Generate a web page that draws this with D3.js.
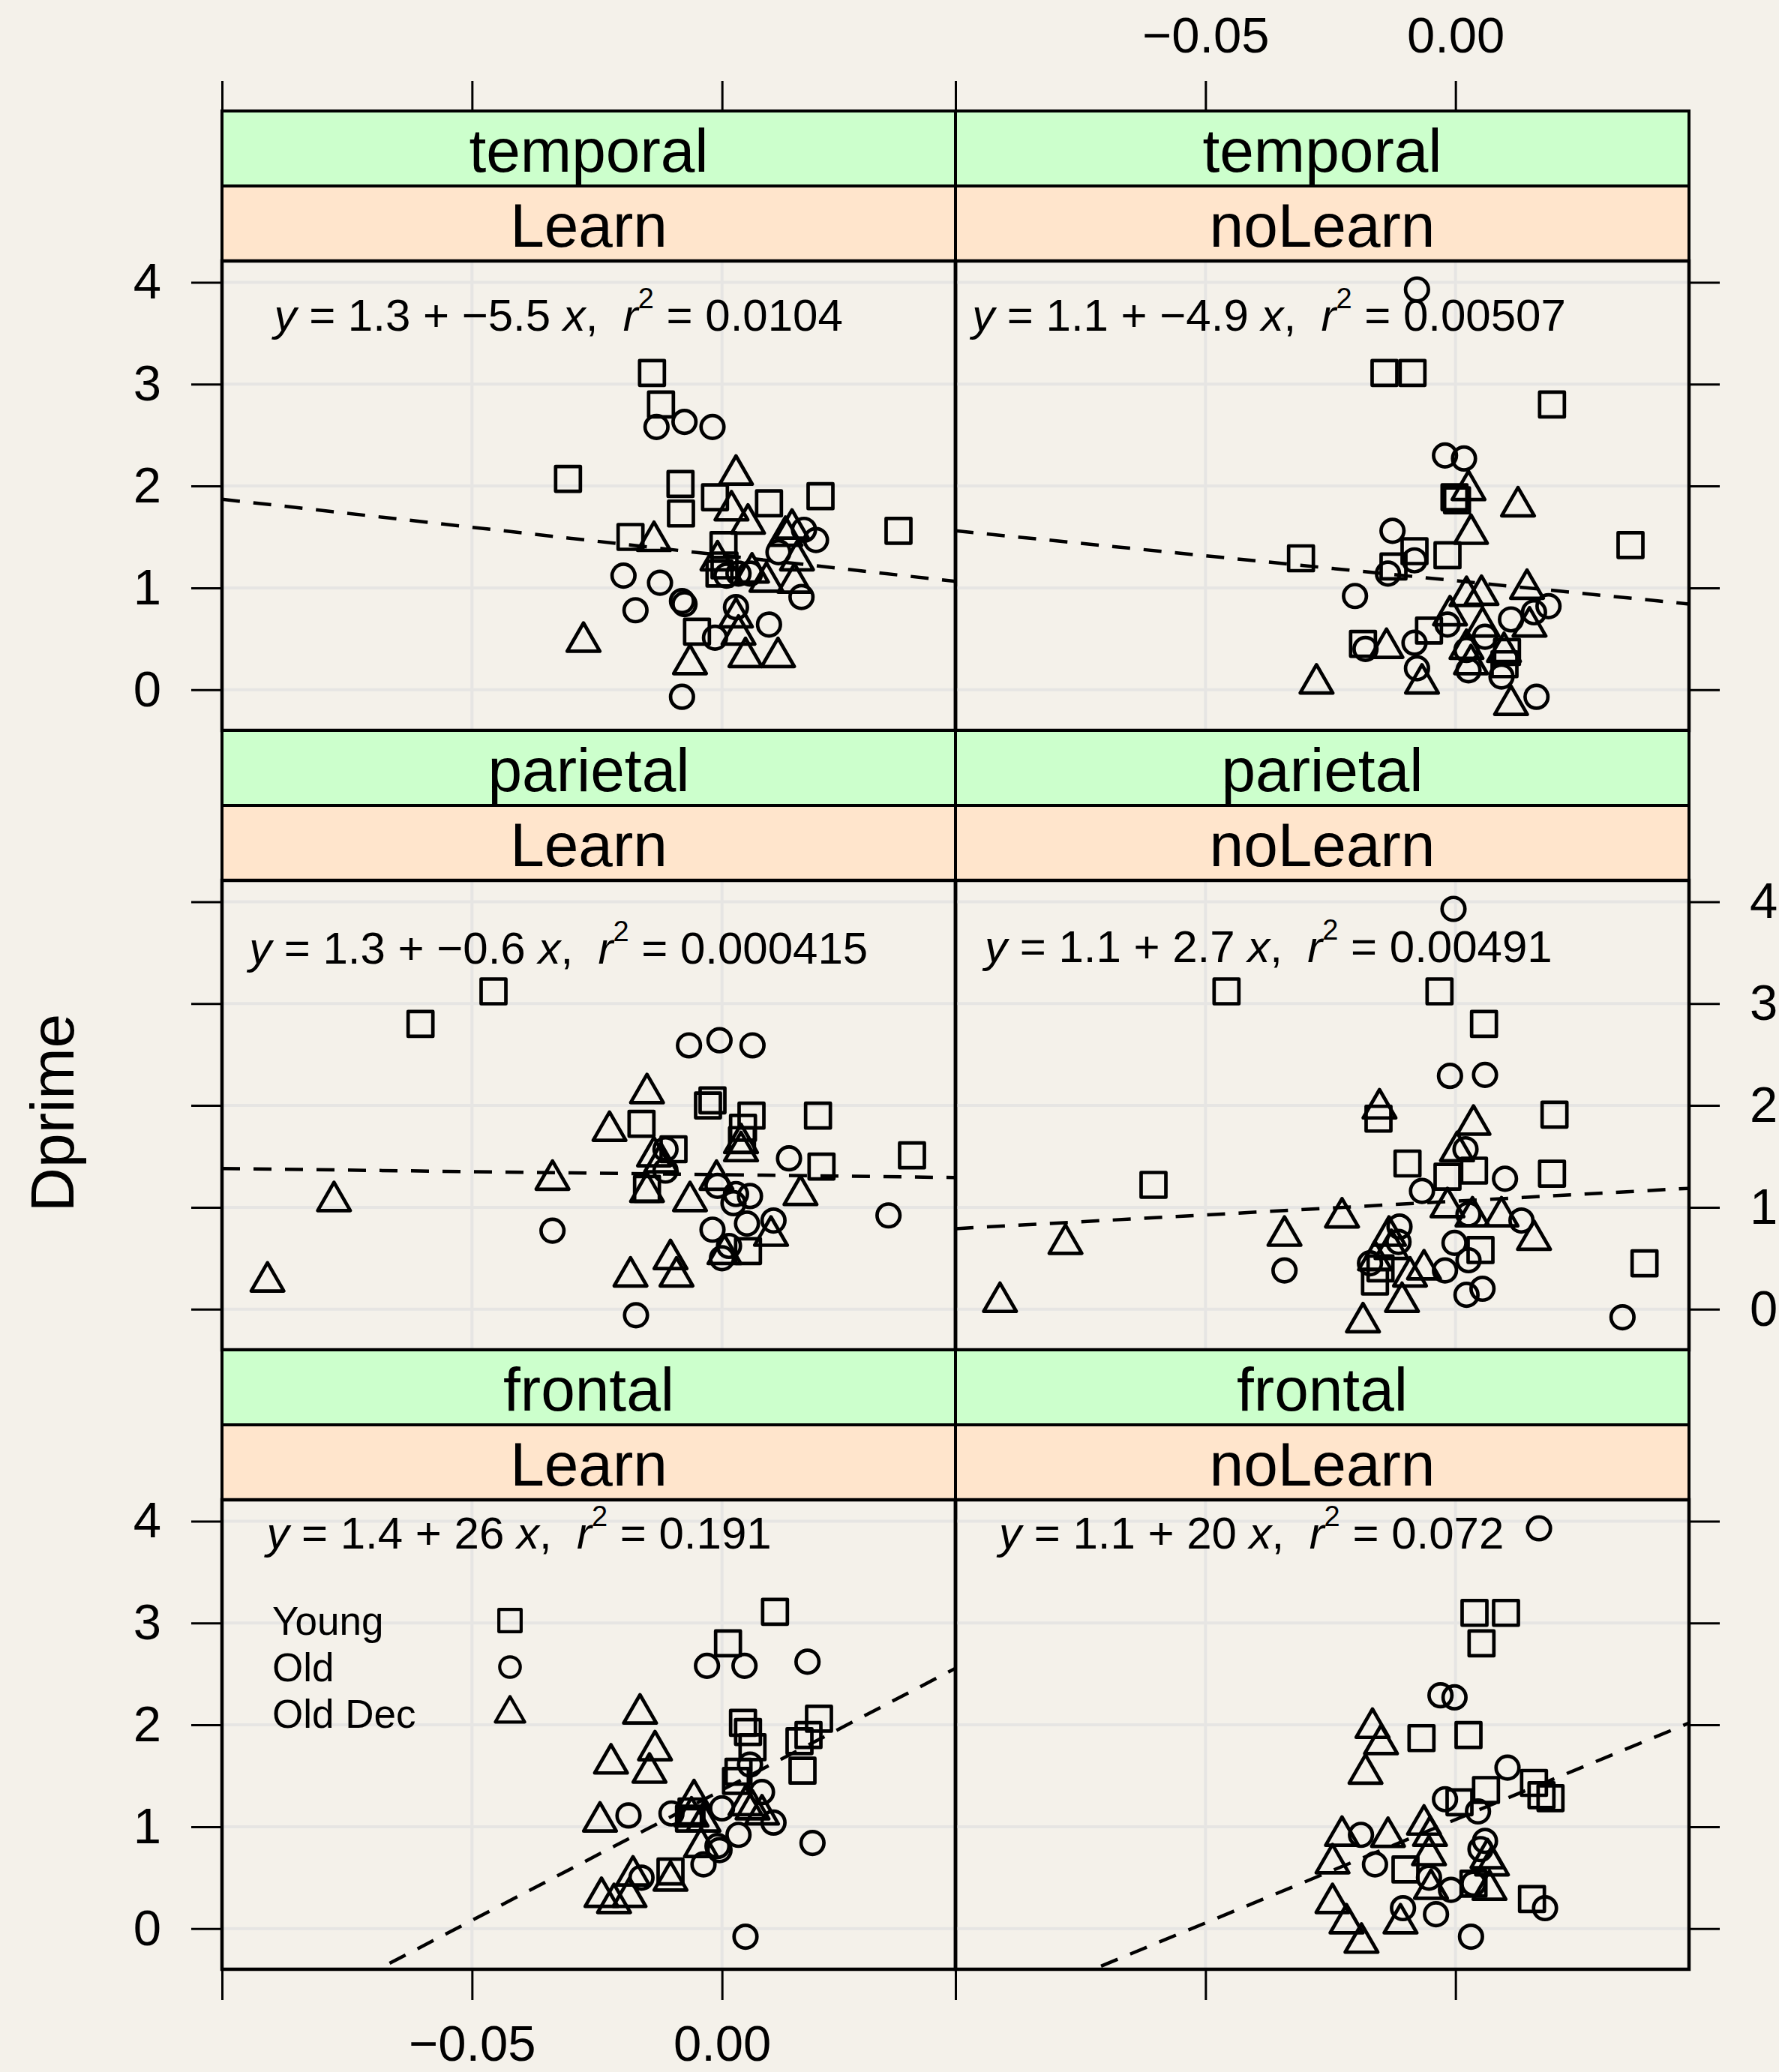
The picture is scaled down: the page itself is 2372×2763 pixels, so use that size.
<!DOCTYPE html>
<html>
<head>
<meta charset="utf-8">
<script src="https://cdn.jsdelivr.net/npm/d3@7"></script>
<style>
  html, body { margin: 0; padding: 0; background: #f4f1ea; }
  svg { display: block; }
  text { white-space: pre; }
</style>
</head>
<body>
<script>
// ---------------------------------------------------------------
// Dprime against slope, by brain region and learning condition
// ---------------------------------------------------------------

const regions = ["temporal", "parietal", "frontal"];   // rows, top to bottom
const conditions = ["Learn", "noLearn"];                // columns
const groups = ["Young", "Old", "Old Dec"];

const xTickValues = [-0.10, -0.05, 0.00];
const xTickLabels = ["", "\u22120.05", "0.00"];
const yTickValues = [0, 1, 2, 3, 4];
const yTickLabels = ["0", "1", "2", "3", "4"];

// temporal / Learn
const temporalLearnYoung = [[-0.0140,3.11],[-0.0122,2.80],[-0.0308,2.07],[-0.0083,2.02],[-0.0082,1.73],[-0.0014,1.89],[0.0094,1.83],[0.0197,1.90],[0.0353,1.56],[-0.0183,1.50],[0.0003,1.42],[-0.0005,1.14],[0.0005,1.22],[-0.0050,0.57]];
const temporalLearnOld = [[-0.0131,2.58],[-0.0075,2.63],[-0.0019,2.58],[0.0164,1.57],[0.0188,1.47],[0.0113,1.35],[-0.0197,1.12],[-0.0124,1.05],[0.0009,1.12],[0.0033,1.14],[0.0056,1.14],[-0.0080,0.87],[-0.0075,0.84],[-0.0173,0.78],[0.0159,0.91],[0.0028,0.81],[0.0094,0.64],[-0.0014,0.51],[-0.0080,-0.07]];
const temporalLearnOldDec = [[0.0028,2.11],[0.0019,1.76],[0.0052,1.63],[-0.0136,1.46],[0.0127,1.51],[0.0140,1.58],[-0.0009,1.27],[0.0150,1.27],[0.0089,1.06],[0.0145,1.05],[0.0028,0.71],[0.0033,0.54],[-0.0277,0.47],[-0.0064,0.25],[0.0047,0.32],[0.0112,0.32],[0.0060,1.15]];

// temporal / noLearn
const temporalNoLearnYoung = [[-0.0142,3.11],[-0.0086,3.11],[0.0193,2.80],[-0.0002,1.89],[0.0003,1.86],[-0.0309,1.29],[-0.0082,1.36],[-0.0016,1.32],[-0.0124,1.21],[0.0350,1.42],[-0.0053,0.58],[-0.0185,0.45],[0.0098,0.25],[0.0103,0.37]];
const temporalNoLearnOld = [[-0.0077,3.93],[-0.0021,2.30],[0.0017,2.27],[-0.0126,1.56],[-0.0082,1.27],[-0.0135,1.14],[-0.0201,0.92],[0.0186,0.82],[0.0157,0.76],[0.0111,0.69],[-0.0016,0.64],[-0.0082,0.46],[-0.0180,0.40],[0.0022,0.39],[0.0059,0.52],[-0.0077,0.21],[0.0026,0.19],[0.0092,0.13],[0.0162,-0.07]];
const temporalNoLearnOldDec = [[0.0026,1.96],[0.0125,1.80],[0.0031,1.53],[0.0143,0.99],[0.0022,0.92],[0.0052,0.93],[-0.0011,0.73],[0.0054,0.62],[0.0148,0.62],[-0.0138,0.41],[0.0022,0.40],[0.0097,0.37],[-0.0278,0.06],[-0.0067,0.06],[0.0031,0.25],[0.0111,-0.15]];

// parietal / Learn
const parietalLearnYoung = [[-0.0457,3.12],[-0.0603,2.80],[-0.0019,2.05],[-0.0028,2.00],[0.0059,1.90],[0.0192,1.90],[-0.0161,1.82],[-0.0097,1.57],[0.0042,1.78],[0.0040,1.66],[0.0380,1.51],[0.0199,1.40],[-0.0150,1.18],[0.0052,0.57]];
const parietalLearnOld = [[-0.0066,2.59],[-0.0005,2.64],[0.0061,2.59],[0.0134,1.48],[-0.0113,1.57],[-0.0113,1.36],[-0.0009,1.21],[0.0028,1.13],[0.0056,1.11],[0.0023,1.04],[0.0333,0.92],[-0.0339,0.77],[-0.0019,0.78],[0.0050,0.84],[0.0103,0.87],[0.0014,0.62],[0.0000,0.50],[-0.0172,-0.06]];
const parietalLearnOldDec = [[-0.0150,2.12],[-0.0225,1.75],[-0.0136,1.50],[-0.0122,1.44],[0.0038,1.63],[0.0038,1.55],[-0.0339,1.27],[-0.0776,1.06],[-0.0011,1.27],[-0.0150,1.15],[-0.0064,1.06],[0.0157,1.12],[0.0098,0.72],[-0.0103,0.49],[-0.0183,0.32],[-0.0091,0.32],[0.0005,0.54],[-0.0909,0.27]];

// parietal / noLearn
const parietalNoLearnYoung = [[-0.0458,3.12],[-0.0032,3.12],[0.0057,2.80],[0.0198,1.91],[-0.0154,1.87],[-0.0096,1.43],[0.0037,1.36],[-0.0016,1.30],[0.0193,1.33],[-0.0604,1.22],[0.0050,0.58],[-0.0161,0.27],[0.0378,0.45],[-0.0150,0.40]];
const parietalNoLearnOld = [[-0.0004,3.93],[-0.0011,2.29],[0.0059,2.30],[0.0020,1.57],[0.0099,1.28],[-0.0067,1.16],[0.0026,0.93],[0.0132,0.87],[-0.0112,0.81],[-0.0114,0.66],[-0.0002,0.65],[-0.0171,0.45],[0.0026,0.48],[-0.0021,0.38],[-0.0342,0.38],[0.0054,0.20],[0.0022,0.14],[0.0334,-0.08]];
const parietalNoLearnOldDec = [[-0.0152,1.97],[0.0036,1.81],[0.0003,1.55],[-0.0016,1.00],[0.0034,0.91],[0.0092,0.91],[-0.0227,0.90],[-0.0342,0.72],[0.0157,0.68],[-0.0780,0.64],[-0.0133,0.72],[-0.0128,0.59],[-0.0161,0.48],[-0.0063,0.39],[-0.0091,0.32],[-0.0107,0.07],[-0.0185,-0.13],[-0.0911,0.07]];

// frontal / Learn
const frontalLearnYoung = [[0.0106,3.11],[0.0012,2.80],[0.0194,2.06],[0.0042,2.02],[0.0052,1.93],[0.0173,1.90],[0.0155,1.84],[0.0061,1.78],[0.0161,1.55],[0.0033,1.54],[0.0028,1.45],[-0.0061,1.15],[-0.0066,1.08],[-0.0103,0.56]];
const frontalLearnOld = [[-0.0030,2.58],[0.0045,2.58],[0.0171,2.62],[0.0056,1.61],[0.0080,1.34],[-0.0187,1.11],[-0.0101,1.13],[0.0000,1.18],[0.0103,1.04],[0.0033,0.92],[-0.0009,0.81],[-0.0005,0.77],[-0.0037,0.63],[-0.0161,0.50],[0.0181,0.84],[0.0047,-0.08]];
const frontalLearnOldDec = [[-0.0164,2.11],[-0.0134,1.75],[-0.0222,1.62],[-0.0145,1.53],[-0.0056,1.27],[-0.0244,1.05],[0.0047,1.21],[0.0061,1.17],[0.0080,1.12],[-0.0037,1.05],[-0.0061,1.10],[-0.0042,0.80],[-0.0178,0.52],[-0.0103,0.47],[-0.0241,0.31],[-0.0216,0.25],[-0.0185,0.31]];

// frontal / noLearn
const frontalNoLearnYoung = [[0.0038,3.10],[0.0101,3.10],[0.0052,2.80],[-0.0068,1.87],[0.0026,1.90],[0.0157,1.43],[0.0061,1.36],[0.0172,1.31],[0.0190,1.28],[0.0008,1.24],[-0.0100,0.58],[0.0036,0.44],[0.0153,0.29]];
const frontalNoLearnOld = [[0.0167,3.93],[-0.0030,2.29],[-0.0002,2.27],[0.0104,1.58],[-0.0021,1.27],[0.0045,1.15],[-0.0189,0.92],[0.0059,0.86],[0.0050,0.78],[-0.0161,0.63],[-0.0053,0.50],[-0.0009,0.38],[0.0036,0.44],[-0.0105,0.20],[-0.0039,0.14],[0.0179,0.20],[0.0031,-0.08]];
const frontalNoLearnOldDec = [[-0.0166,1.97],[-0.0149,1.81],[-0.0180,1.52],[-0.0227,0.91],[-0.0135,0.90],[-0.0063,1.02],[-0.0051,0.91],[-0.0246,0.64],[-0.0053,0.72],[0.0064,0.69],[0.0073,0.62],[-0.0049,0.39],[0.0068,0.38],[-0.0246,0.25],[-0.0218,0.05],[-0.0110,0.05],[-0.0188,-0.14]];

// Least-squares fits, panel order: row by row, Learn then noLearn
const fitIntercept = [1.32, 1.07, 1.32, 1.06, 1.36, 1.07];
const fitSlope     = [-5.5, -4.9, -0.6, 2.7, 25.6, 20.3];
const fitR2        = [0.0104, 0.00507, 0.000415, 0.00491, 0.191, 0.072];

// ---------------------------------------------------------------
const W = 2372, H = 2763;
const FONT = "'Liberation Sans', Arial, Helvetica, sans-serif";
const BG = "#f4f1ea";
const STRIP_OUTER = "#ccffcc", STRIP_INNER = "#ffe5cc";

const colLeft = [296, 1274];
const panelW = 978;
const rowTop = [148, 974, 1800];
const stripH = 100;
const plotH = 626;

const x = d3.scaleLinear().domain([-0.10, 0.0467]).range([0, panelW]);
const y = d3.scaleLinear().domain([-0.40, 4.21]).range([plotH, 0]);

const fmtCoef = d3.format(".2~r");
const fmtR2 = d3.format(".3~r");

const seriesTable = {
  temporal: { Learn: [temporalLearnYoung, temporalLearnOld, temporalLearnOldDec],
              noLearn: [temporalNoLearnYoung, temporalNoLearnOld, temporalNoLearnOldDec] },
  parietal: { Learn: [parietalLearnYoung, parietalLearnOld, parietalLearnOldDec],
              noLearn: [parietalNoLearnYoung, parietalNoLearnOld, parietalNoLearnOldDec] },
  frontal:  { Learn: [frontalLearnYoung, frontalLearnOld, frontalLearnOldDec],
              noLearn: [frontalNoLearnYoung, frontalNoLearnOld, frontalNoLearnOldDec] }
};

// where each fit equation sits, in data units (centre x, baseline y)
const eqAnchor = [[-0.0327, 3.525], [-0.0373, 3.525],
                  [-0.0327, 3.39],  [-0.0374, 3.41],
                  [-0.0406, 3.73],  [-0.0408, 3.73]];

// symbols: open square, circle, triangle
const symbolTypes = [d3.symbolSquare, d3.symbolCircle, d3.symbolTriangle];
const symbolSizes = [1089, 730, 820];
const symbolPath = (i, k = 1) => d3.symbol().type(symbolTypes[i]).size(symbolSizes[i] * k * k)();
const MARK_STROKE = 4.7;

const svg = d3.select("body").append("svg")
  .attr("width", W).attr("height", H)
  .attr("font-family", FONT);

svg.append("rect").attr("width", W).attr("height", H).attr("fill", BG);

const defs = svg.append("defs");
defs.append("clipPath").attr("id", "plotClip")
  .append("rect").attr("width", panelW).attr("height", plotH);

regions.forEach((region, r) => {
  conditions.forEach((cond, c) => {
    const k = r * 2 + c;
    const px = colLeft[c];
    const top = rowTop[r];
    const plotTop = top + 2 * stripH;

    // strips
    const strips = svg.append("g").attr("transform", `translate(${px},${top})`);
    [[region, STRIP_OUTER], [cond, STRIP_INNER]].forEach(([label, fill], s) => {
      strips.append("rect")
        .attr("y", s * stripH).attr("width", panelW).attr("height", stripH)
        .attr("fill", fill).attr("stroke", "#000").attr("stroke-width", 4);
      strips.append("text")
        .attr("x", panelW / 2).attr("y", s * stripH + 81)
        .attr("text-anchor", "middle").attr("font-size", 82).attr("fill", "#000")
        .text(label);
    });

    // panel
    const g = svg.append("g").attr("transform", `translate(${px},${plotTop})`);

    // reference grid
    const grid = g.append("g").attr("stroke", "#e6e5e3").attr("stroke-width", 4);
    grid.selectAll("line.v").data(xTickValues).join("line").attr("class", "v")
      .attr("x1", d => x(d)).attr("x2", d => x(d)).attr("y1", 0).attr("y2", plotH);
    grid.selectAll("line.h").data(yTickValues).join("line").attr("class", "h")
      .attr("x1", 0).attr("x2", panelW).attr("y1", d => y(d)).attr("y2", d => y(d));

    const inner = g.append("g").attr("clip-path", "url(#plotClip)");

    // fitted line
    const a = fitIntercept[k], b = fitSlope[k];
    const [x0, x1] = x.domain();
    inner.append("line")
      .attr("x1", x(x0)).attr("y1", y(a + b * x0))
      .attr("x2", x(x1)).attr("y2", y(a + b * x1))
      .attr("stroke", "#000").attr("stroke-width", 4.5)
      .attr("stroke-dasharray", "24,18");

    // points
    seriesTable[region][cond].forEach((pts, gi) => {
      inner.append("g").selectAll("path").data(pts).join("path")
        .attr("transform", d => `translate(${x(d[0])},${y(d[1])})`)
        .attr("d", symbolPath(gi))
        .attr("fill", "none").attr("stroke", "#000")
        .attr("stroke-width", MARK_STROKE).attr("stroke-linejoin", "round");
    });

    // equation
    const [ex, ey] = eqAnchor[k];
    const eq = g.append("text")
      .attr("x", x(ex)).attr("y", y(ey))
      .attr("text-anchor", "middle").attr("font-size", 60).attr("fill", "#000");
    eq.append("tspan").attr("font-style", "italic").text("y");
    eq.append("tspan").text(` = ${fmtCoef(a)} + ${fmtCoef(b)} `);
    eq.append("tspan").attr("font-style", "italic").text("x");
    eq.append("tspan").text(",  ");
    eq.append("tspan").attr("font-style", "italic").text("r");
    eq.append("tspan").attr("font-size", 38).attr("dy", -30).text("2");
    eq.append("tspan").attr("dy", 30).text(` = ${fmtR2(fitR2[k])}`);

    // key inside the frontal / Learn panel
    if (region === "frontal" && cond === "Learn") {
      const key = g.append("g").attr("transform", "translate(67,161)");
      groups.forEach((name, gi) => {
        key.append("text").attr("x", 0).attr("y", gi * 62 + 19)
          .attr("font-size", 53).attr("fill", "#000").text(name);
        key.append("path")
          .attr("transform", `translate(317,${gi * 62})`)
          .attr("d", symbolPath(gi, 0.9))
          .attr("fill", "none").attr("stroke", "#000")
          .attr("stroke-width", 4.2).attr("stroke-linejoin", "round");
      });
    }

    g.append("rect").attr("width", panelW).attr("height", plotH)
      .attr("fill", "none").attr("stroke", "#000").attr("stroke-width", 4.5);
  });
});

// axes (alternating labels, ticks on every side)
function styleAxis(sel) {
  sel.select(".domain").remove();
  sel.attr("font-family", FONT).attr("font-size", 67);
  sel.selectAll(".tick line").attr("stroke", "#000").attr("stroke-width", 3);
  sel.selectAll(".tick text").attr("fill", "#000");
}

regions.forEach((region, r) => {
  const plotTop = rowTop[r] + 2 * stripH;
  const leftLabelled = r !== 1;
  svg.append("g").attr("transform", `translate(${colLeft[0]},${plotTop})`)
    .call(d3.axisLeft(y).tickValues(yTickValues).tickSize(41).tickPadding(40)
      .tickFormat((d, i) => leftLabelled ? yTickLabels[i] : ""))
    .call(styleAxis);
  svg.append("g").attr("transform", `translate(${colLeft[1] + panelW},${plotTop})`)
    .call(d3.axisRight(y).tickValues(yTickValues).tickSize(41).tickPadding(40)
      .tickFormat((d, i) => leftLabelled ? "" : yTickLabels[i]))
    .call(styleAxis);
});

conditions.forEach((cond, c) => {
  svg.append("g").attr("transform", `translate(${colLeft[c]},${rowTop[0]})`)
    .call(d3.axisTop(x).tickValues(xTickValues).tickSize(40).tickPadding(38)
      .tickFormat((d, i) => c === 1 ? xTickLabels[i] : ""))
    .call(styleAxis);
  svg.append("g").attr("transform", `translate(${colLeft[c]},${rowTop[2] + 2 * stripH + plotH})`)
    .call(d3.axisBottom(x).tickValues(xTickValues).tickSize(41).tickPadding(33)
      .tickFormat((d, i) => c === 0 ? xTickLabels[i] : ""))
    .call(styleAxis);
});

// y-axis title
svg.append("text")
  .attr("transform", "translate(98,1484) rotate(-90)")
  .attr("text-anchor", "middle").attr("font-size", 82).attr("fill", "#000")
  .text("Dprime");
</script>
</body>
</html>
